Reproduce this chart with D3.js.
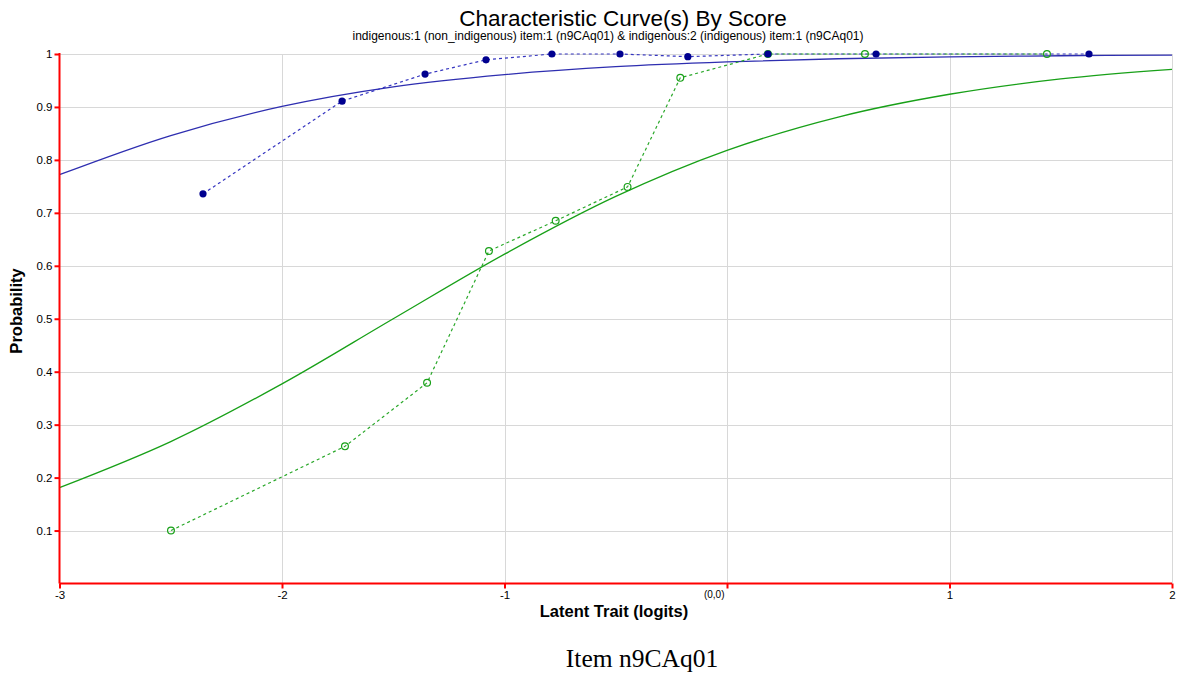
<!DOCTYPE html>
<html>
<head>
<meta charset="utf-8">
<script src="https://cdn.jsdelivr.net/npm/d3@7/dist/d3.min.js"></script>
<style>
  html, body { margin: 0; padding: 0; background: #fff; }
  svg { display: block; }
  text { font-family: "Liberation Sans", Arial, sans-serif; fill: #000; }
</style>
</head>
<body>
<svg id="chart" width="1179" height="679"></svg>
<script>
// ---- Data ----
const title = "Characteristic Curve(s) By Score";
const subtitle = "indigenous:1 (non_indigenous) item:1 (n9CAq01) & indigenous:2 (indigenous) item:1 (n9CAq01)";
const xLabel = "Latent Trait (logits)";
const yLabel = "Probability";
const caption = "Item n9CAq01";

const xTicks = [-3, -2, -1, 0, 1, 2];
const xTickLabels = ["-3", "-2", "-1", "(0,0)", "1", "2"];
const yTicks = [0.1, 0.2, 0.3, 0.4, 0.5, 0.6, 0.7, 0.8, 0.9, 1];
const yTickLabels = ["0.1", "0.2", "0.3", "0.4", "0.5", "0.6", "0.7", "0.8", "0.9", "1"];

// model curves
const curveX = [-3, -2.5, -2, -1.5, -1, -0.5, 0, 0.5, 1, 1.5, 2];
const nonIndigenousModel = [0.772, 0.846, 0.901, 0.938, 0.961, 0.976, 0.985, 0.991, 0.9945, 0.9967, 0.998];
const indigenousModel = [0.181, 0.268, 0.377, 0.5, 0.622, 0.731, 0.818, 0.881, 0.924, 0.953, 0.971];

// observed points
const nonIndigenousObsX = [-2.355, -1.73, -1.357, -1.083, -0.787, -0.481, -0.176, 0.184, 0.67, 1.627];
const nonIndigenousObsY = [0.736, 0.911, 0.962, 0.989, 1.0, 1.0, 0.995, 1.0, 1.0, 1.0];
const indigenousObsX = [-2.499, -1.717, -1.348, -1.07, -0.77, -0.447, -0.21, 0.184, 0.62, 1.438];
const indigenousObsY = [0.100, 0.259, 0.379, 0.628, 0.685, 0.749, 0.955, 1.0, 1.0, 1.0];

// ---- Layout ----
const svg = d3.select("#chart");
const L = 59.5, R = 1172, T = 54, B = 583.5;

const x = d3.scaleLinear().domain([-3, 2]).range([L, R]);
const y = d3.scaleLinear().domain([0, 1]).range([B, T]);

const blueLine = "#2e2eb0";
const blueDash = "#3535c0";
const blueDot = "#00008f";
const greenLine = "#18a018";
const greenDash = "#2aa82a";

// gridlines
const grid = svg.append("g");
grid.selectAll("line.gy").data(yTicks).join("line")
  .attr("x1", L).attr("x2", R)
  .attr("y1", d => Math.round(y(d)) + 0.5).attr("y2", d => Math.round(y(d)) + 0.5)
  .attr("stroke", "#d8d8d8").attr("stroke-width", 1);
grid.selectAll("line.gx").data(xTicks.filter(d => d > -3)).join("line")
  .attr("x1", d => Math.round(x(d)) + 0.5).attr("x2", d => Math.round(x(d)) + 0.5)
  .attr("y1", T).attr("y2", B)
  .attr("stroke", "#d8d8d8").attr("stroke-width", 1);

// model curves
const lineGen = d3.line().x(d => x(d[0])).y(d => y(d[1])).curve(d3.curveCatmullRom);
svg.append("path").datum(curveX.map((v, i) => [v, nonIndigenousModel[i]]))
  .attr("d", lineGen).attr("fill", "none").attr("stroke", blueLine).attr("stroke-width", 1.3);
svg.append("path").datum(curveX.map((v, i) => [v, indigenousModel[i]]))
  .attr("d", lineGen).attr("fill", "none").attr("stroke", greenLine).attr("stroke-width", 1.3);

// observed lines
const obsLine = d3.line().x(d => x(d[0])).y(d => y(d[1]));
const nonObs = nonIndigenousObsX.map((v, i) => [v, nonIndigenousObsY[i]]);
const indObs = indigenousObsX.map((v, i) => [v, indigenousObsY[i]]);
svg.append("path").datum(nonObs).attr("d", obsLine)
  .attr("fill", "none").attr("stroke", blueDash).attr("stroke-width", 1.2).attr("stroke-dasharray", "3,3");
svg.append("path").datum(indObs).attr("d", obsLine)
  .attr("fill", "none").attr("stroke", greenDash).attr("stroke-width", 1.2).attr("stroke-dasharray", "3,3");

// points
svg.append("g").selectAll("circle").data(indObs).join("circle")
  .attr("cx", d => x(d[0])).attr("cy", d => y(d[1])).attr("r", 3.4)
  .attr("fill", "none").attr("stroke", greenLine).attr("stroke-width", 1.2);
svg.append("g").selectAll("circle").data(nonObs).join("circle")
  .attr("cx", d => x(d[0])).attr("cy", d => y(d[1])).attr("r", 3.6)
  .attr("fill", blueDot);

// axes
const red = "#ff0000";
const xAxis = d3.axisBottom(x).tickValues(xTicks).tickSize(5)
  .tickFormat((d, i) => xTickLabels[i]);
const gx = svg.append("g").attr("transform", `translate(0,${B})`).call(xAxis);
gx.select(".domain").attr("stroke", red).attr("stroke-width", 2).attr("d", `M${L},0H${R}`);
gx.selectAll(".tick line").attr("stroke", red).attr("stroke-width", 2);
gx.selectAll(".tick text").attr("font-size", 11.5).attr("font-family", "Liberation Sans, Arial, sans-serif")
  .attr("fill", "#000").attr("dy", "0.95em").attr("y", 5);
gx.selectAll(".tick").filter(d => d === 0).select("text")
  .attr("font-size", 10).attr("text-anchor", "end").attr("x", -3);

const yAxis = d3.axisLeft(y).tickValues(yTicks).tickSize(5)
  .tickFormat((d, i) => yTickLabels[i]);
const gy = svg.append("g").attr("transform", `translate(${L},0)`).call(yAxis);
gy.select(".domain").attr("stroke", red).attr("stroke-width", 2).attr("d", `M0,${T - 1}V${B}`);
gy.selectAll(".tick line").attr("stroke", red).attr("stroke-width", 2);
gy.selectAll(".tick text").attr("font-size", 11.5).attr("font-family", "Liberation Sans, Arial, sans-serif")
  .attr("fill", "#000").attr("x", -7);

// titles
svg.append("text").attr("x", 623).attr("y", 26).attr("text-anchor", "middle")
  .attr("font-size", 22.5).text(title);
svg.append("text").attr("x", 608).attr("y", 40).attr("text-anchor", "middle")
  .attr("font-size", 12).text(subtitle);
svg.append("text").attr("x", 614).attr("y", 617).attr("text-anchor", "middle")
  .attr("font-size", 16.5).attr("font-weight", "bold").text(xLabel);
svg.append("text").attr("transform", "translate(22,311) rotate(-90)")
  .attr("text-anchor", "middle").attr("font-size", 16.5).attr("font-weight", "bold").text(yLabel);
svg.append("text").attr("x", 642).attr("y", 667).attr("text-anchor", "middle")
  .attr("font-size", 25.5).style("font-family", "'Liberation Serif', 'Times New Roman', serif").text(caption);
</script>
</body>
</html>
